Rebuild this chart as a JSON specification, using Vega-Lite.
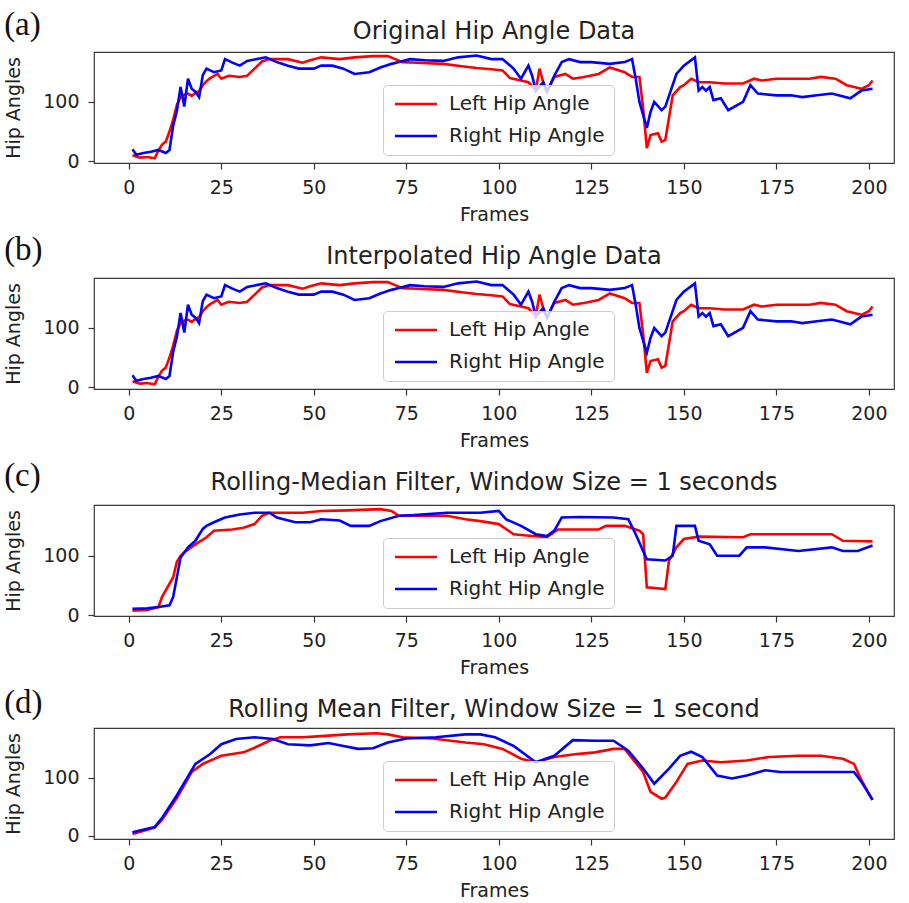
{
  "$schema": "https://vega.github.io/schema/vega-lite/v6.json",
  "background": "white",
  "padding": {"left": 4, "top": 9, "right": 4, "bottom": 2},
  "spacing": 9,
  "config": {
    "font": "DejaVu Sans",
    "view": {"stroke": "#3a3a3a", "strokeWidth": 1.2},
    "axis": {"domain": false, "grid": false, "tickSize": 6, "tickColor": "#333", "tickWidth": 1.2, "labelFontSize": 19, "labelColor": "#222", "labelFont": "DejaVu Sans", "titleFontSize": 19, "titleFontWeight": "normal", "titleColor": "#222", "titleFont": "DejaVu Sans"},
    "axisX": {"titlePadding": 8, "labelPadding": 9},
    "axisY": {"titlePadding": 19, "labelPadding": 9},
    "legend": {"orient": "none", "legendX": 289, "legendY": 33, "symbolType": "M-1,0H5", "symbolSize": 196, "symbolStrokeWidth": 2.6, "labelOffset": 37, "labelFontSize": 20, "labelColor": "#222", "labelFont": "DejaVu Sans", "rowPadding": 12, "padding": 9, "fillColor": "rgba(255,255,255,0.8)", "strokeColor": "#cccccc", "cornerRadius": 4, "labelLimit": 0}
  },
  "datasets": {
    "raw": [
      {"frame":1,"angle":10,"series":"Left Hip Angle"},{"frame":3,"angle":6,"series":"Left Hip Angle"},{"frame":5,"angle":7,"series":"Left Hip Angle"},{"frame":7,"angle":5,"series":"Left Hip Angle"},{"frame":8,"angle":18,"series":"Left Hip Angle"},{"frame":9,"angle":28,"series":"Left Hip Angle"},{"frame":10,"angle":33,"series":"Left Hip Angle"},{"frame":11,"angle":50,"series":"Left Hip Angle"},{"frame":12,"angle":70,"series":"Left Hip Angle"},{"frame":13,"angle":95,"series":"Left Hip Angle"},{"frame":14,"angle":108,"series":"Left Hip Angle"},{"frame":15,"angle":112,"series":"Left Hip Angle"},{"frame":16,"angle":114,"series":"Left Hip Angle"},{"frame":17,"angle":110,"series":"Left Hip Angle"},{"frame":18,"angle":115,"series":"Left Hip Angle"},{"frame":19,"angle":118,"series":"Left Hip Angle"},{"frame":20,"angle":128,"series":"Left Hip Angle"},{"frame":21,"angle":135,"series":"Left Hip Angle"},{"frame":22,"angle":140,"series":"Left Hip Angle"},{"frame":24,"angle":147,"series":"Left Hip Angle"},{"frame":25,"angle":139,"series":"Left Hip Angle"},{"frame":27,"angle":144,"series":"Left Hip Angle"},{"frame":30,"angle":142,"series":"Left Hip Angle"},{"frame":32,"angle":144,"series":"Left Hip Angle"},{"frame":34,"angle":156,"series":"Left Hip Angle"},{"frame":36,"angle":168,"series":"Left Hip Angle"},{"frame":38,"angle":172,"series":"Left Hip Angle"},{"frame":43,"angle":172,"series":"Left Hip Angle"},{"frame":47,"angle":166,"series":"Left Hip Angle"},{"frame":49,"angle":170,"series":"Left Hip Angle"},{"frame":52,"angle":175,"series":"Left Hip Angle"},{"frame":57,"angle":172,"series":"Left Hip Angle"},{"frame":61,"angle":175,"series":"Left Hip Angle"},{"frame":66,"angle":177,"series":"Left Hip Angle"},{"frame":70,"angle":177,"series":"Left Hip Angle"},{"frame":72,"angle":172,"series":"Left Hip Angle"},{"frame":74,"angle":167,"series":"Left Hip Angle"},{"frame":78,"angle":166,"series":"Left Hip Angle"},{"frame":85,"angle":164,"series":"Left Hip Angle"},{"frame":90,"angle":160,"series":"Left Hip Angle"},{"frame":94,"angle":157,"series":"Left Hip Angle"},{"frame":98,"angle":155,"series":"Left Hip Angle"},{"frame":101,"angle":153,"series":"Left Hip Angle"},{"frame":103,"angle":140,"series":"Left Hip Angle"},{"frame":106,"angle":136,"series":"Left Hip Angle"},{"frame":108,"angle":133,"series":"Left Hip Angle"},{"frame":110,"angle":120,"series":"Left Hip Angle"},{"frame":111,"angle":156,"series":"Left Hip Angle"},{"frame":112,"angle":133,"series":"Left Hip Angle"},{"frame":113,"angle":117,"series":"Left Hip Angle"},{"frame":115,"angle":142,"series":"Left Hip Angle"},{"frame":118,"angle":147,"series":"Left Hip Angle"},{"frame":120,"angle":139,"series":"Left Hip Angle"},{"frame":123,"angle":142,"series":"Left Hip Angle"},{"frame":127,"angle":147,"series":"Left Hip Angle"},{"frame":130,"angle":158,"series":"Left Hip Angle"},{"frame":134,"angle":150,"series":"Left Hip Angle"},{"frame":136,"angle":142,"series":"Left Hip Angle"},{"frame":138,"angle":142,"series":"Left Hip Angle"},{"frame":139,"angle":90,"series":"Left Hip Angle"},{"frame":140,"angle":22,"series":"Left Hip Angle"},{"frame":141,"angle":44,"series":"Left Hip Angle"},{"frame":143,"angle":47,"series":"Left Hip Angle"},{"frame":144,"angle":33,"series":"Left Hip Angle"},{"frame":145,"angle":36,"series":"Left Hip Angle"},{"frame":147,"angle":111,"series":"Left Hip Angle"},{"frame":149,"angle":125,"series":"Left Hip Angle"},{"frame":150,"angle":128,"series":"Left Hip Angle"},{"frame":152,"angle":139,"series":"Left Hip Angle"},{"frame":154,"angle":133,"series":"Left Hip Angle"},{"frame":157,"angle":133,"series":"Left Hip Angle"},{"frame":161,"angle":131,"series":"Left Hip Angle"},{"frame":166,"angle":131,"series":"Left Hip Angle"},{"frame":169,"angle":139,"series":"Left Hip Angle"},{"frame":171,"angle":136,"series":"Left Hip Angle"},{"frame":175,"angle":139,"series":"Left Hip Angle"},{"frame":180,"angle":139,"series":"Left Hip Angle"},{"frame":184,"angle":139,"series":"Left Hip Angle"},{"frame":187,"angle":142,"series":"Left Hip Angle"},{"frame":191,"angle":139,"series":"Left Hip Angle"},{"frame":194,"angle":128,"series":"Left Hip Angle"},{"frame":196,"angle":125,"series":"Left Hip Angle"},{"frame":198,"angle":122,"series":"Left Hip Angle"},{"frame":200,"angle":128,"series":"Left Hip Angle"},{"frame":201,"angle":136,"series":"Left Hip Angle"},
      {"frame":1,"angle":20,"series":"Right Hip Angle"},{"frame":2,"angle":11,"series":"Right Hip Angle"},{"frame":4,"angle":14,"series":"Right Hip Angle"},{"frame":6,"angle":16,"series":"Right Hip Angle"},{"frame":8,"angle":19,"series":"Right Hip Angle"},{"frame":10,"angle":14,"series":"Right Hip Angle"},{"frame":11,"angle":19,"series":"Right Hip Angle"},{"frame":12,"angle":60,"series":"Right Hip Angle"},{"frame":13,"angle":85,"series":"Right Hip Angle"},{"frame":14,"angle":125,"series":"Right Hip Angle"},{"frame":15,"angle":92,"series":"Right Hip Angle"},{"frame":16,"angle":139,"series":"Right Hip Angle"},{"frame":17,"angle":122,"series":"Right Hip Angle"},{"frame":18,"angle":117,"series":"Right Hip Angle"},{"frame":19,"angle":108,"series":"Right Hip Angle"},{"frame":20,"angle":145,"series":"Right Hip Angle"},{"frame":21,"angle":156,"series":"Right Hip Angle"},{"frame":23,"angle":150,"series":"Right Hip Angle"},{"frame":25,"angle":153,"series":"Right Hip Angle"},{"frame":26,"angle":172,"series":"Right Hip Angle"},{"frame":28,"angle":166,"series":"Right Hip Angle"},{"frame":30,"angle":161,"series":"Right Hip Angle"},{"frame":32,"angle":169,"series":"Right Hip Angle"},{"frame":37,"angle":175,"series":"Right Hip Angle"},{"frame":40,"angle":167,"series":"Right Hip Angle"},{"frame":43,"angle":161,"series":"Right Hip Angle"},{"frame":46,"angle":156,"series":"Right Hip Angle"},{"frame":50,"angle":156,"series":"Right Hip Angle"},{"frame":52,"angle":161,"series":"Right Hip Angle"},{"frame":55,"angle":161,"series":"Right Hip Angle"},{"frame":58,"angle":156,"series":"Right Hip Angle"},{"frame":61,"angle":147,"series":"Right Hip Angle"},{"frame":65,"angle":150,"series":"Right Hip Angle"},{"frame":68,"angle":158,"series":"Right Hip Angle"},{"frame":71,"angle":164,"series":"Right Hip Angle"},{"frame":73,"angle":167,"series":"Right Hip Angle"},{"frame":76,"angle":172,"series":"Right Hip Angle"},{"frame":80,"angle":170,"series":"Right Hip Angle"},{"frame":85,"angle":169,"series":"Right Hip Angle"},{"frame":89,"angle":175,"series":"Right Hip Angle"},{"frame":94,"angle":178,"series":"Right Hip Angle"},{"frame":98,"angle":172,"series":"Right Hip Angle"},{"frame":101,"angle":172,"series":"Right Hip Angle"},{"frame":104,"angle":156,"series":"Right Hip Angle"},{"frame":106,"angle":139,"series":"Right Hip Angle"},{"frame":108,"angle":161,"series":"Right Hip Angle"},{"frame":109,"angle":144,"series":"Right Hip Angle"},{"frame":110,"angle":119,"series":"Right Hip Angle"},{"frame":112,"angle":133,"series":"Right Hip Angle"},{"frame":113,"angle":117,"series":"Right Hip Angle"},{"frame":115,"angle":144,"series":"Right Hip Angle"},{"frame":117,"angle":167,"series":"Right Hip Angle"},{"frame":119,"angle":172,"series":"Right Hip Angle"},{"frame":122,"angle":167,"series":"Right Hip Angle"},{"frame":125,"angle":167,"series":"Right Hip Angle"},{"frame":130,"angle":164,"series":"Right Hip Angle"},{"frame":134,"angle":167,"series":"Right Hip Angle"},{"frame":136,"angle":172,"series":"Right Hip Angle"},{"frame":137,"angle":139,"series":"Right Hip Angle"},{"frame":138,"angle":100,"series":"Right Hip Angle"},{"frame":140,"angle":56,"series":"Right Hip Angle"},{"frame":141,"angle":83,"series":"Right Hip Angle"},{"frame":142,"angle":100,"series":"Right Hip Angle"},{"frame":144,"angle":86,"series":"Right Hip Angle"},{"frame":145,"angle":92,"series":"Right Hip Angle"},{"frame":148,"angle":147,"series":"Right Hip Angle"},{"frame":150,"angle":161,"series":"Right Hip Angle"},{"frame":153,"angle":175,"series":"Right Hip Angle"},{"frame":154,"angle":119,"series":"Right Hip Angle"},{"frame":155,"angle":125,"series":"Right Hip Angle"},{"frame":156,"angle":119,"series":"Right Hip Angle"},{"frame":157,"angle":125,"series":"Right Hip Angle"},{"frame":158,"angle":103,"series":"Right Hip Angle"},{"frame":160,"angle":106,"series":"Right Hip Angle"},{"frame":162,"angle":86,"series":"Right Hip Angle"},{"frame":166,"angle":100,"series":"Right Hip Angle"},{"frame":168,"angle":128,"series":"Right Hip Angle"},{"frame":170,"angle":114,"series":"Right Hip Angle"},{"frame":175,"angle":111,"series":"Right Hip Angle"},{"frame":179,"angle":111,"series":"Right Hip Angle"},{"frame":182,"angle":108,"series":"Right Hip Angle"},{"frame":186,"angle":111,"series":"Right Hip Angle"},{"frame":190,"angle":114,"series":"Right Hip Angle"},{"frame":195,"angle":106,"series":"Right Hip Angle"},{"frame":198,"angle":119,"series":"Right Hip Angle"},{"frame":201,"angle":122,"series":"Right Hip Angle"}
    ],
    "interp": [
      {"frame":1,"angle":10,"series":"Left Hip Angle"},{"frame":3,"angle":6,"series":"Left Hip Angle"},{"frame":5,"angle":7,"series":"Left Hip Angle"},{"frame":7,"angle":5,"series":"Left Hip Angle"},{"frame":8,"angle":18,"series":"Left Hip Angle"},{"frame":9,"angle":28,"series":"Left Hip Angle"},{"frame":10,"angle":33,"series":"Left Hip Angle"},{"frame":11,"angle":50,"series":"Left Hip Angle"},{"frame":12,"angle":70,"series":"Left Hip Angle"},{"frame":13,"angle":95,"series":"Left Hip Angle"},{"frame":14,"angle":108,"series":"Left Hip Angle"},{"frame":15,"angle":112,"series":"Left Hip Angle"},{"frame":16,"angle":114,"series":"Left Hip Angle"},{"frame":17,"angle":110,"series":"Left Hip Angle"},{"frame":18,"angle":115,"series":"Left Hip Angle"},{"frame":19,"angle":118,"series":"Left Hip Angle"},{"frame":20,"angle":128,"series":"Left Hip Angle"},{"frame":21,"angle":135,"series":"Left Hip Angle"},{"frame":22,"angle":140,"series":"Left Hip Angle"},{"frame":24,"angle":147,"series":"Left Hip Angle"},{"frame":25,"angle":139,"series":"Left Hip Angle"},{"frame":27,"angle":144,"series":"Left Hip Angle"},{"frame":30,"angle":142,"series":"Left Hip Angle"},{"frame":32,"angle":144,"series":"Left Hip Angle"},{"frame":34,"angle":156,"series":"Left Hip Angle"},{"frame":36,"angle":168,"series":"Left Hip Angle"},{"frame":38,"angle":172,"series":"Left Hip Angle"},{"frame":43,"angle":172,"series":"Left Hip Angle"},{"frame":47,"angle":166,"series":"Left Hip Angle"},{"frame":49,"angle":170,"series":"Left Hip Angle"},{"frame":52,"angle":175,"series":"Left Hip Angle"},{"frame":57,"angle":172,"series":"Left Hip Angle"},{"frame":61,"angle":175,"series":"Left Hip Angle"},{"frame":66,"angle":177,"series":"Left Hip Angle"},{"frame":70,"angle":177,"series":"Left Hip Angle"},{"frame":72,"angle":172,"series":"Left Hip Angle"},{"frame":74,"angle":167,"series":"Left Hip Angle"},{"frame":78,"angle":166,"series":"Left Hip Angle"},{"frame":85,"angle":164,"series":"Left Hip Angle"},{"frame":90,"angle":160,"series":"Left Hip Angle"},{"frame":94,"angle":157,"series":"Left Hip Angle"},{"frame":98,"angle":155,"series":"Left Hip Angle"},{"frame":101,"angle":153,"series":"Left Hip Angle"},{"frame":103,"angle":140,"series":"Left Hip Angle"},{"frame":106,"angle":136,"series":"Left Hip Angle"},{"frame":108,"angle":133,"series":"Left Hip Angle"},{"frame":110,"angle":120,"series":"Left Hip Angle"},{"frame":111,"angle":156,"series":"Left Hip Angle"},{"frame":112,"angle":133,"series":"Left Hip Angle"},{"frame":113,"angle":117,"series":"Left Hip Angle"},{"frame":115,"angle":142,"series":"Left Hip Angle"},{"frame":118,"angle":147,"series":"Left Hip Angle"},{"frame":120,"angle":139,"series":"Left Hip Angle"},{"frame":123,"angle":142,"series":"Left Hip Angle"},{"frame":127,"angle":147,"series":"Left Hip Angle"},{"frame":130,"angle":158,"series":"Left Hip Angle"},{"frame":134,"angle":150,"series":"Left Hip Angle"},{"frame":136,"angle":142,"series":"Left Hip Angle"},{"frame":138,"angle":142,"series":"Left Hip Angle"},{"frame":139,"angle":90,"series":"Left Hip Angle"},{"frame":140,"angle":24,"series":"Left Hip Angle"},{"frame":141,"angle":44,"series":"Left Hip Angle"},{"frame":143,"angle":47,"series":"Left Hip Angle"},{"frame":144,"angle":33,"series":"Left Hip Angle"},{"frame":145,"angle":36,"series":"Left Hip Angle"},{"frame":147,"angle":111,"series":"Left Hip Angle"},{"frame":149,"angle":125,"series":"Left Hip Angle"},{"frame":150,"angle":128,"series":"Left Hip Angle"},{"frame":152,"angle":139,"series":"Left Hip Angle"},{"frame":154,"angle":133,"series":"Left Hip Angle"},{"frame":157,"angle":133,"series":"Left Hip Angle"},{"frame":161,"angle":131,"series":"Left Hip Angle"},{"frame":166,"angle":131,"series":"Left Hip Angle"},{"frame":169,"angle":139,"series":"Left Hip Angle"},{"frame":171,"angle":136,"series":"Left Hip Angle"},{"frame":175,"angle":139,"series":"Left Hip Angle"},{"frame":180,"angle":139,"series":"Left Hip Angle"},{"frame":184,"angle":139,"series":"Left Hip Angle"},{"frame":187,"angle":142,"series":"Left Hip Angle"},{"frame":191,"angle":139,"series":"Left Hip Angle"},{"frame":194,"angle":128,"series":"Left Hip Angle"},{"frame":196,"angle":125,"series":"Left Hip Angle"},{"frame":198,"angle":122,"series":"Left Hip Angle"},{"frame":200,"angle":128,"series":"Left Hip Angle"},{"frame":201,"angle":136,"series":"Left Hip Angle"},
      {"frame":1,"angle":20,"series":"Right Hip Angle"},{"frame":2,"angle":11,"series":"Right Hip Angle"},{"frame":4,"angle":14,"series":"Right Hip Angle"},{"frame":6,"angle":16,"series":"Right Hip Angle"},{"frame":8,"angle":19,"series":"Right Hip Angle"},{"frame":10,"angle":14,"series":"Right Hip Angle"},{"frame":11,"angle":19,"series":"Right Hip Angle"},{"frame":12,"angle":60,"series":"Right Hip Angle"},{"frame":13,"angle":85,"series":"Right Hip Angle"},{"frame":14,"angle":125,"series":"Right Hip Angle"},{"frame":15,"angle":92,"series":"Right Hip Angle"},{"frame":16,"angle":139,"series":"Right Hip Angle"},{"frame":17,"angle":122,"series":"Right Hip Angle"},{"frame":18,"angle":117,"series":"Right Hip Angle"},{"frame":19,"angle":108,"series":"Right Hip Angle"},{"frame":20,"angle":145,"series":"Right Hip Angle"},{"frame":21,"angle":156,"series":"Right Hip Angle"},{"frame":23,"angle":150,"series":"Right Hip Angle"},{"frame":25,"angle":153,"series":"Right Hip Angle"},{"frame":26,"angle":172,"series":"Right Hip Angle"},{"frame":28,"angle":166,"series":"Right Hip Angle"},{"frame":30,"angle":161,"series":"Right Hip Angle"},{"frame":32,"angle":169,"series":"Right Hip Angle"},{"frame":37,"angle":175,"series":"Right Hip Angle"},{"frame":40,"angle":167,"series":"Right Hip Angle"},{"frame":43,"angle":161,"series":"Right Hip Angle"},{"frame":46,"angle":156,"series":"Right Hip Angle"},{"frame":50,"angle":156,"series":"Right Hip Angle"},{"frame":52,"angle":161,"series":"Right Hip Angle"},{"frame":55,"angle":161,"series":"Right Hip Angle"},{"frame":58,"angle":156,"series":"Right Hip Angle"},{"frame":61,"angle":147,"series":"Right Hip Angle"},{"frame":65,"angle":150,"series":"Right Hip Angle"},{"frame":68,"angle":158,"series":"Right Hip Angle"},{"frame":71,"angle":164,"series":"Right Hip Angle"},{"frame":73,"angle":167,"series":"Right Hip Angle"},{"frame":76,"angle":172,"series":"Right Hip Angle"},{"frame":80,"angle":170,"series":"Right Hip Angle"},{"frame":85,"angle":169,"series":"Right Hip Angle"},{"frame":89,"angle":175,"series":"Right Hip Angle"},{"frame":94,"angle":178,"series":"Right Hip Angle"},{"frame":98,"angle":172,"series":"Right Hip Angle"},{"frame":101,"angle":172,"series":"Right Hip Angle"},{"frame":104,"angle":156,"series":"Right Hip Angle"},{"frame":106,"angle":139,"series":"Right Hip Angle"},{"frame":108,"angle":161,"series":"Right Hip Angle"},{"frame":109,"angle":144,"series":"Right Hip Angle"},{"frame":110,"angle":119,"series":"Right Hip Angle"},{"frame":112,"angle":133,"series":"Right Hip Angle"},{"frame":113,"angle":117,"series":"Right Hip Angle"},{"frame":115,"angle":144,"series":"Right Hip Angle"},{"frame":117,"angle":167,"series":"Right Hip Angle"},{"frame":119,"angle":172,"series":"Right Hip Angle"},{"frame":122,"angle":167,"series":"Right Hip Angle"},{"frame":125,"angle":167,"series":"Right Hip Angle"},{"frame":130,"angle":164,"series":"Right Hip Angle"},{"frame":134,"angle":167,"series":"Right Hip Angle"},{"frame":136,"angle":172,"series":"Right Hip Angle"},{"frame":137,"angle":139,"series":"Right Hip Angle"},{"frame":138,"angle":100,"series":"Right Hip Angle"},{"frame":140,"angle":58,"series":"Right Hip Angle"},{"frame":141,"angle":83,"series":"Right Hip Angle"},{"frame":142,"angle":100,"series":"Right Hip Angle"},{"frame":144,"angle":86,"series":"Right Hip Angle"},{"frame":145,"angle":92,"series":"Right Hip Angle"},{"frame":148,"angle":147,"series":"Right Hip Angle"},{"frame":150,"angle":161,"series":"Right Hip Angle"},{"frame":153,"angle":175,"series":"Right Hip Angle"},{"frame":154,"angle":119,"series":"Right Hip Angle"},{"frame":155,"angle":125,"series":"Right Hip Angle"},{"frame":156,"angle":119,"series":"Right Hip Angle"},{"frame":157,"angle":125,"series":"Right Hip Angle"},{"frame":158,"angle":103,"series":"Right Hip Angle"},{"frame":160,"angle":106,"series":"Right Hip Angle"},{"frame":162,"angle":86,"series":"Right Hip Angle"},{"frame":166,"angle":100,"series":"Right Hip Angle"},{"frame":168,"angle":128,"series":"Right Hip Angle"},{"frame":170,"angle":114,"series":"Right Hip Angle"},{"frame":175,"angle":111,"series":"Right Hip Angle"},{"frame":179,"angle":111,"series":"Right Hip Angle"},{"frame":182,"angle":108,"series":"Right Hip Angle"},{"frame":186,"angle":111,"series":"Right Hip Angle"},{"frame":190,"angle":114,"series":"Right Hip Angle"},{"frame":195,"angle":106,"series":"Right Hip Angle"},{"frame":198,"angle":119,"series":"Right Hip Angle"},{"frame":201,"angle":122,"series":"Right Hip Angle"}
    ],
    "median": [
      {"frame":1,"angle":8,"series":"Left Hip Angle"},{"frame":5,"angle":9,"series":"Left Hip Angle"},{"frame":8,"angle":14,"series":"Left Hip Angle"},{"frame":9,"angle":31,"series":"Left Hip Angle"},{"frame":12,"angle":64,"series":"Left Hip Angle"},{"frame":13,"angle":90,"series":"Left Hip Angle"},{"frame":14,"angle":100,"series":"Left Hip Angle"},{"frame":15,"angle":106,"series":"Left Hip Angle"},{"frame":18,"angle":119,"series":"Left Hip Angle"},{"frame":21,"angle":131,"series":"Left Hip Angle"},{"frame":23,"angle":142,"series":"Left Hip Angle"},{"frame":28,"angle":144,"series":"Left Hip Angle"},{"frame":31,"angle":147,"series":"Left Hip Angle"},{"frame":34,"angle":153,"series":"Left Hip Angle"},{"frame":36,"angle":167,"series":"Left Hip Angle"},{"frame":38,"angle":172,"series":"Left Hip Angle"},{"frame":47,"angle":172,"series":"Left Hip Angle"},{"frame":52,"angle":175,"series":"Left Hip Angle"},{"frame":59,"angle":176,"series":"Left Hip Angle"},{"frame":68,"angle":178,"series":"Left Hip Angle"},{"frame":71,"angle":175,"series":"Left Hip Angle"},{"frame":73,"angle":167,"series":"Left Hip Angle"},{"frame":86,"angle":167,"series":"Left Hip Angle"},{"frame":91,"angle":161,"series":"Left Hip Angle"},{"frame":95,"angle":158,"series":"Left Hip Angle"},{"frame":100,"angle":153,"series":"Left Hip Angle"},{"frame":104,"angle":136,"series":"Left Hip Angle"},{"frame":109,"angle":133,"series":"Left Hip Angle"},{"frame":113,"angle":131,"series":"Left Hip Angle"},{"frame":116,"angle":144,"series":"Left Hip Angle"},{"frame":127,"angle":144,"series":"Left Hip Angle"},{"frame":129,"angle":150,"series":"Left Hip Angle"},{"frame":134,"angle":150,"series":"Left Hip Angle"},{"frame":138,"angle":142,"series":"Left Hip Angle"},{"frame":139,"angle":136,"series":"Left Hip Angle"},{"frame":140,"angle":47,"series":"Left Hip Angle"},{"frame":145,"angle":44,"series":"Left Hip Angle"},{"frame":146,"angle":92,"series":"Left Hip Angle"},{"frame":148,"angle":114,"series":"Left Hip Angle"},{"frame":150,"angle":128,"series":"Left Hip Angle"},{"frame":154,"angle":132,"series":"Left Hip Angle"},{"frame":166,"angle":131,"series":"Left Hip Angle"},{"frame":168,"angle":136,"series":"Left Hip Angle"},{"frame":190,"angle":136,"series":"Left Hip Angle"},{"frame":193,"angle":125,"series":"Left Hip Angle"},{"frame":201,"angle":124,"series":"Left Hip Angle"},
      {"frame":1,"angle":11,"series":"Right Hip Angle"},{"frame":5,"angle":12,"series":"Right Hip Angle"},{"frame":8,"angle":14,"series":"Right Hip Angle"},{"frame":11,"angle":17,"series":"Right Hip Angle"},{"frame":12,"angle":31,"series":"Right Hip Angle"},{"frame":14,"angle":97,"series":"Right Hip Angle"},{"frame":16,"angle":114,"series":"Right Hip Angle"},{"frame":18,"angle":125,"series":"Right Hip Angle"},{"frame":20,"angle":145,"series":"Right Hip Angle"},{"frame":21,"angle":150,"series":"Right Hip Angle"},{"frame":23,"angle":156,"series":"Right Hip Angle"},{"frame":26,"angle":164,"series":"Right Hip Angle"},{"frame":30,"angle":169,"series":"Right Hip Angle"},{"frame":34,"angle":172,"series":"Right Hip Angle"},{"frame":38,"angle":172,"series":"Right Hip Angle"},{"frame":40,"angle":164,"series":"Right Hip Angle"},{"frame":45,"angle":156,"series":"Right Hip Angle"},{"frame":49,"angle":156,"series":"Right Hip Angle"},{"frame":52,"angle":161,"series":"Right Hip Angle"},{"frame":57,"angle":159,"series":"Right Hip Angle"},{"frame":60,"angle":150,"series":"Right Hip Angle"},{"frame":65,"angle":150,"series":"Right Hip Angle"},{"frame":68,"angle":158,"series":"Right Hip Angle"},{"frame":73,"angle":167,"series":"Right Hip Angle"},{"frame":77,"angle":168,"series":"Right Hip Angle"},{"frame":86,"angle":172,"series":"Right Hip Angle"},{"frame":95,"angle":172,"series":"Right Hip Angle"},{"frame":100,"angle":175,"series":"Right Hip Angle"},{"frame":102,"angle":161,"series":"Right Hip Angle"},{"frame":106,"angle":150,"series":"Right Hip Angle"},{"frame":110,"angle":136,"series":"Right Hip Angle"},{"frame":113,"angle":133,"series":"Right Hip Angle"},{"frame":115,"angle":142,"series":"Right Hip Angle"},{"frame":117,"angle":164,"series":"Right Hip Angle"},{"frame":122,"angle":165,"series":"Right Hip Angle"},{"frame":131,"angle":164,"series":"Right Hip Angle"},{"frame":135,"angle":161,"series":"Right Hip Angle"},{"frame":137,"angle":136,"series":"Right Hip Angle"},{"frame":139,"angle":108,"series":"Right Hip Angle"},{"frame":140,"angle":94,"series":"Right Hip Angle"},{"frame":145,"angle":92,"series":"Right Hip Angle"},{"frame":147,"angle":100,"series":"Right Hip Angle"},{"frame":148,"angle":150,"series":"Right Hip Angle"},{"frame":153,"angle":150,"series":"Right Hip Angle"},{"frame":154,"angle":125,"series":"Right Hip Angle"},{"frame":157,"angle":119,"series":"Right Hip Angle"},{"frame":159,"angle":100,"series":"Right Hip Angle"},{"frame":165,"angle":100,"series":"Right Hip Angle"},{"frame":167,"angle":114,"series":"Right Hip Angle"},{"frame":172,"angle":114,"series":"Right Hip Angle"},{"frame":181,"angle":108,"series":"Right Hip Angle"},{"frame":190,"angle":114,"series":"Right Hip Angle"},{"frame":193,"angle":108,"series":"Right Hip Angle"},{"frame":197,"angle":108,"series":"Right Hip Angle"},{"frame":201,"angle":117,"series":"Right Hip Angle"}
    ],
    "mean": [
      {"frame":1,"angle":3,"series":"Left Hip Angle"},{"frame":7,"angle":14,"series":"Left Hip Angle"},{"frame":9,"angle":28,"series":"Left Hip Angle"},{"frame":13,"angle":65,"series":"Left Hip Angle"},{"frame":17,"angle":110,"series":"Left Hip Angle"},{"frame":20,"angle":124,"series":"Left Hip Angle"},{"frame":25,"angle":138,"series":"Left Hip Angle"},{"frame":31,"angle":144,"series":"Left Hip Angle"},{"frame":34,"angle":152,"series":"Left Hip Angle"},{"frame":38,"angle":164,"series":"Left Hip Angle"},{"frame":41,"angle":170,"series":"Left Hip Angle"},{"frame":47,"angle":170,"series":"Left Hip Angle"},{"frame":52,"angle":172,"series":"Left Hip Angle"},{"frame":59,"angle":175,"series":"Left Hip Angle"},{"frame":67,"angle":177,"series":"Left Hip Angle"},{"frame":70,"angle":175,"series":"Left Hip Angle"},{"frame":74,"angle":170,"series":"Left Hip Angle"},{"frame":82,"angle":168,"series":"Left Hip Angle"},{"frame":91,"angle":161,"series":"Left Hip Angle"},{"frame":96,"angle":158,"series":"Left Hip Angle"},{"frame":101,"angle":150,"series":"Left Hip Angle"},{"frame":106,"angle":133,"series":"Left Hip Angle"},{"frame":110,"angle":127,"series":"Left Hip Angle"},{"frame":115,"angle":136,"series":"Left Hip Angle"},{"frame":121,"angle":141,"series":"Left Hip Angle"},{"frame":126,"angle":144,"series":"Left Hip Angle"},{"frame":131,"angle":150,"series":"Left Hip Angle"},{"frame":134,"angle":150,"series":"Left Hip Angle"},{"frame":139,"angle":110,"series":"Left Hip Angle"},{"frame":141,"angle":76,"series":"Left Hip Angle"},{"frame":144,"angle":64,"series":"Left Hip Angle"},{"frame":145,"angle":66,"series":"Left Hip Angle"},{"frame":148,"angle":93,"series":"Left Hip Angle"},{"frame":151,"angle":124,"series":"Left Hip Angle"},{"frame":155,"angle":130,"series":"Left Hip Angle"},{"frame":160,"angle":127,"series":"Left Hip Angle"},{"frame":167,"angle":130,"series":"Left Hip Angle"},{"frame":173,"angle":136,"series":"Left Hip Angle"},{"frame":181,"angle":138,"series":"Left Hip Angle"},{"frame":187,"angle":138,"series":"Left Hip Angle"},{"frame":193,"angle":133,"series":"Left Hip Angle"},{"frame":196,"angle":124,"series":"Left Hip Angle"},{"frame":198,"angle":96,"series":"Left Hip Angle"},{"frame":201,"angle":62,"series":"Left Hip Angle"},
      {"frame":1,"angle":6,"series":"Right Hip Angle"},{"frame":7,"angle":15,"series":"Right Hip Angle"},{"frame":9,"angle":31,"series":"Right Hip Angle"},{"frame":13,"angle":70,"series":"Right Hip Angle"},{"frame":18,"angle":124,"series":"Right Hip Angle"},{"frame":22,"angle":141,"series":"Right Hip Angle"},{"frame":25,"angle":158,"series":"Right Hip Angle"},{"frame":29,"angle":167,"series":"Right Hip Angle"},{"frame":34,"angle":170,"series":"Right Hip Angle"},{"frame":39,"angle":167,"series":"Right Hip Angle"},{"frame":43,"angle":158,"series":"Right Hip Angle"},{"frame":49,"angle":156,"series":"Right Hip Angle"},{"frame":54,"angle":160,"series":"Right Hip Angle"},{"frame":58,"angle":155,"series":"Right Hip Angle"},{"frame":62,"angle":150,"series":"Right Hip Angle"},{"frame":66,"angle":151,"series":"Right Hip Angle"},{"frame":70,"angle":161,"series":"Right Hip Angle"},{"frame":75,"angle":168,"series":"Right Hip Angle"},{"frame":83,"angle":170,"series":"Right Hip Angle"},{"frame":91,"angle":175,"series":"Right Hip Angle"},{"frame":95,"angle":175,"series":"Right Hip Angle"},{"frame":99,"angle":170,"series":"Right Hip Angle"},{"frame":104,"angle":155,"series":"Right Hip Angle"},{"frame":110,"angle":127,"series":"Right Hip Angle"},{"frame":115,"angle":138,"series":"Right Hip Angle"},{"frame":120,"angle":165,"series":"Right Hip Angle"},{"frame":126,"angle":164,"series":"Right Hip Angle"},{"frame":131,"angle":164,"series":"Right Hip Angle"},{"frame":135,"angle":147,"series":"Right Hip Angle"},{"frame":139,"angle":116,"series":"Right Hip Angle"},{"frame":142,"angle":90,"series":"Right Hip Angle"},{"frame":146,"angle":116,"series":"Right Hip Angle"},{"frame":149,"angle":138,"series":"Right Hip Angle"},{"frame":152,"angle":145,"series":"Right Hip Angle"},{"frame":155,"angle":136,"series":"Right Hip Angle"},{"frame":159,"angle":104,"series":"Right Hip Angle"},{"frame":163,"angle":99,"series":"Right Hip Angle"},{"frame":167,"angle":104,"series":"Right Hip Angle"},{"frame":172,"angle":113,"series":"Right Hip Angle"},{"frame":176,"angle":110,"series":"Right Hip Angle"},{"frame":186,"angle":110,"series":"Right Hip Angle"},{"frame":196,"angle":110,"series":"Right Hip Angle"},{"frame":198,"angle":93,"series":"Right Hip Angle"},{"frame":201,"angle":62,"series":"Right Hip Angle"}
    ]
  },
  "resolve": {"legend": {"color": "independent"}, "scale": {"color": "independent"}},
  "vconcat": [
    {
      "title": {"text": "(a)", "anchor": "start", "frame": "bounds", "font": "Liberation Serif", "fontSize": 33, "fontWeight": "normal", "color": "#111", "offset": -23},
      "resolve": {"legend": {"color": "independent"}},
      "vconcat": [{
        "title": {"text": "Original Hip Angle Data", "anchor": "middle", "frame": "group", "fontSize": 24, "fontWeight": "normal", "color": "#222", "offset": 8},
        "width": 800, "height": 111,
        "data": {"name": "raw"},
        "mark": {"type": "line", "strokeWidth": 2.6, "clip": true},
        "encoding": {
          "x": {"field": "frame", "type": "quantitative", "scale": {"domain": [-9.4, 206.8], "nice": false, "zero": false}, "axis": {"values": [0,25,50,75,100,125,150,175,200], "title": "Frames"}},
          "y": {"field": "angle", "type": "quantitative", "scale": {"domain": [-3, 184], "nice": false, "zero": false}, "axis": {"values": [0,100], "title": "Hip Angles"}},
          "color": {"field": "series", "type": "nominal", "scale": {"domain": ["Left Hip Angle", "Right Hip Angle"], "range": ["#ff0000", "#0000ff"]}, "legend": {"title": null}}
        }
      }]
    },
    {
      "title": {"text": "(b)", "anchor": "start", "frame": "bounds", "font": "Liberation Serif", "fontSize": 33, "fontWeight": "normal", "color": "#111", "offset": -23},
      "resolve": {"legend": {"color": "independent"}},
      "vconcat": [{
        "title": {"text": "Interpolated Hip Angle Data", "anchor": "middle", "frame": "group", "fontSize": 24, "fontWeight": "normal", "color": "#222", "offset": 9},
        "width": 800, "height": 111,
        "data": {"name": "interp"},
        "mark": {"type": "line", "strokeWidth": 2.6, "clip": true},
        "encoding": {
          "x": {"field": "frame", "type": "quantitative", "scale": {"domain": [-9.4, 206.8], "nice": false, "zero": false}, "axis": {"values": [0,25,50,75,100,125,150,175,200], "title": "Frames"}},
          "y": {"field": "angle", "type": "quantitative", "scale": {"domain": [-3, 184], "nice": false, "zero": false}, "axis": {"values": [0,100], "title": "Hip Angles"}},
          "color": {"field": "series", "type": "nominal", "scale": {"domain": ["Left Hip Angle", "Right Hip Angle"], "range": ["#ff0000", "#0000ff"]}, "legend": {"title": null}}
        }
      }]
    },
    {
      "title": {"text": "(c)", "anchor": "start", "frame": "bounds", "font": "Liberation Serif", "fontSize": 33, "fontWeight": "normal", "color": "#111", "offset": -23},
      "resolve": {"legend": {"color": "independent"}},
      "vconcat": [{
        "title": {"text": "Rolling-Median Filter, Window Size = 1 seconds", "anchor": "middle", "frame": "group", "fontSize": 24, "fontWeight": "normal", "color": "#222", "offset": 10},
        "width": 800, "height": 111,
        "data": {"name": "median"},
        "mark": {"type": "line", "strokeWidth": 2.6, "clip": true},
        "encoding": {
          "x": {"field": "frame", "type": "quantitative", "scale": {"domain": [-9.4, 206.8], "nice": false, "zero": false}, "axis": {"values": [0,25,50,75,100,125,150,175,200], "title": "Frames"}},
          "y": {"field": "angle", "type": "quantitative", "scale": {"domain": [-1, 185], "nice": false, "zero": false}, "axis": {"values": [0,100], "title": "Hip Angles"}},
          "color": {"field": "series", "type": "nominal", "scale": {"domain": ["Left Hip Angle", "Right Hip Angle"], "range": ["#ff0000", "#0000ff"]}, "legend": {"title": null}}
        }
      }]
    },
    {
      "title": {"text": "(d)", "anchor": "start", "frame": "bounds", "font": "Liberation Serif", "fontSize": 33, "fontWeight": "normal", "color": "#111", "offset": -23},
      "resolve": {"legend": {"color": "independent"}},
      "vconcat": [{
        "title": {"text": "Rolling Mean Filter, Window Size = 1 second", "anchor": "middle", "frame": "group", "fontSize": 24, "fontWeight": "normal", "color": "#222", "offset": 6},
        "width": 800, "height": 111,
        "data": {"name": "mean"},
        "mark": {"type": "line", "strokeWidth": 2.6, "clip": true},
        "encoding": {
          "x": {"field": "frame", "type": "quantitative", "scale": {"domain": [-9.4, 206.8], "nice": false, "zero": false}, "axis": {"values": [0,25,50,75,100,125,150,175,200], "title": "Frames"}},
          "y": {"field": "angle", "type": "quantitative", "scale": {"domain": [-5.5, 186], "nice": false, "zero": false}, "axis": {"values": [0,100], "title": "Hip Angles"}},
          "color": {"field": "series", "type": "nominal", "scale": {"domain": ["Left Hip Angle", "Right Hip Angle"], "range": ["#ff0000", "#0000ff"]}, "legend": {"title": null}}
        }
      }]
    }
  ]
}
